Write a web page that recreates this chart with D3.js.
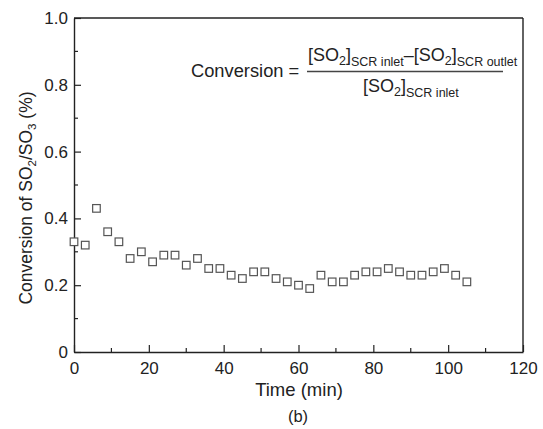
<!DOCTYPE html>
<html><head><meta charset="utf-8">
<script src="https://cdn.jsdelivr.net/npm/d3@7"></script>
<style>body{margin:0;background:#fff}svg{display:block}text{font-family:"Liberation Sans",Arial,sans-serif;fill:#222}</style>
</head><body>
<svg id="c" width="543" height="429"></svg>
<script>
const times = [0,3,6,9,12,15,18,21,24,27,30,33,36,39,42,45,48,51,54,57,60,63,66,69,72,75,78,81,84,87,90,93,96,99,102,105];
const conversion = [0.33,0.32,0.43,0.36,0.33,0.28,0.30,0.27,0.29,0.29,0.26,0.28,0.25,0.25,0.23,0.22,0.24,0.24,0.22,0.21,0.20,0.19,0.23,0.21,0.21,0.23,0.24,0.24,0.25,0.24,0.23,0.23,0.24,0.25,0.23,0.21];
const xTicks = [0,20,40,60,80,100,120];
const yTicks = [0,0.2,0.4,0.6,0.8,1.0];
const yTickLabels = ["0","0.2","0.4","0.6","0.8","1.0"];

const svg = d3.select("#c");
const L=74, R=523, T=18, B=352;
const x = d3.scaleLinear().domain([0,120]).range([L,R]);
const y = d3.scaleLinear().domain([0,1]).range([B,T]);
const ink = "#222";

// minor ticks
const g = svg.append("g");
d3.range(10,120,20).forEach(v=>{
  g.append("line").attr("x1",x(v)).attr("x2",x(v)).attr("y1",B).attr("y2",B-4).attr("stroke",ink).attr("stroke-width",1.2);
});
d3.range(0.1,1,0.2).forEach(v=>{
  g.append("line").attr("x1",L).attr("x2",L+4).attr("y1",y(v)).attr("y2",y(v)).attr("stroke",ink).attr("stroke-width",1.2);
});
// axes
const xAxis = d3.axisBottom(x).tickValues(xTicks).tickSizeInner(-7).tickSizeOuter(0).tickPadding(10).tickFormat(d3.format("d"));
const gx = svg.append("g").attr("transform",`translate(0,${B})`).call(xAxis);
const yAxis = d3.axisLeft(y).tickValues(yTicks).tickSizeInner(-7).tickSizeOuter(0).tickPadding(6).tickFormat((d,i)=>yTickLabels[i]);
const gy = svg.append("g").attr("transform",`translate(${L},0)`).call(yAxis);
[gx,gy].forEach(a=>{
  a.selectAll("path").attr("stroke",ink).attr("stroke-width",1.4);
  a.selectAll("line").attr("stroke",ink).attr("stroke-width",1.2);
  a.selectAll("text").attr("font-size",17).attr("font-family","Liberation Sans, Arial, sans-serif").attr("fill","#222");
});
// top and right frame
svg.append("line").attr("x1",L).attr("x2",R).attr("y1",T).attr("y2",T).attr("stroke",ink).attr("stroke-width",1.4);
svg.append("line").attr("x1",R).attr("x2",R).attr("y1",T).attr("y2",B).attr("stroke",ink).attr("stroke-width",1.4);

// points
svg.append("g").selectAll("rect").data(times.map((t,i)=>[t,conversion[i]])).join("rect")
  .attr("x",d=>x(d[0])-3.8).attr("y",d=>y(d[1])-3.8).attr("width",7.6).attr("height",7.6)
  .attr("fill","#fff").attr("stroke","#555").attr("stroke-width",1.2);

// axis titles
svg.append("text").attr("x",299).attr("y",396).attr("text-anchor","middle").attr("font-size",18.5).text("Time (min)");
svg.append("text").attr("x",298).attr("y",422).attr("text-anchor","middle").attr("font-size",16.5).text("(b)");
const yl = svg.append("text").attr("transform","translate(32,198) rotate(-90)").attr("text-anchor","middle").attr("font-size",17.5);
yl.append("tspan").text("Conversion of SO");
yl.append("tspan").attr("font-size",11.5).attr("dy",4).text("2");
yl.append("tspan").attr("dy",-4).text("/SO");
yl.append("tspan").attr("font-size",11.5).attr("dy",4).text("3");
yl.append("tspan").attr("dy",-4).text(" (%)");

// formula
svg.append("text").attr("x",191).attr("y",77).attr("font-size",18.3).text("Conversion =");
svg.append("line").attr("x1",307).attr("x2",503).attr("y1",71.5).attr("y2",71.5).attr("stroke","#444").attr("stroke-width",1.3);
function so2(x0,yb,sub,extra){
  const t = svg.append("text").attr("x",x0).attr("y",yb).attr("font-size",18);
  t.append("tspan").text("[SO");
  t.append("tspan").attr("font-size",12.5).attr("dy",4).text("2");
  t.append("tspan").attr("dy",-4).text("]");
  t.append("tspan").attr("font-size",12.5).attr("dy",5).text(sub);
  if(extra){
    t.append("tspan").attr("dy",-5).text("\u2013[SO");
    t.append("tspan").attr("font-size",12.5).attr("dy",4).text("2");
    t.append("tspan").attr("dy",-4).text("]");
    t.append("tspan").attr("font-size",12.5).attr("dy",5).text(extra);
  }
  return t;
}
so2(308,61,"SCR inlet","SCR outlet");
so2(363,92,"SCR inlet");
</script>
</body></html>
